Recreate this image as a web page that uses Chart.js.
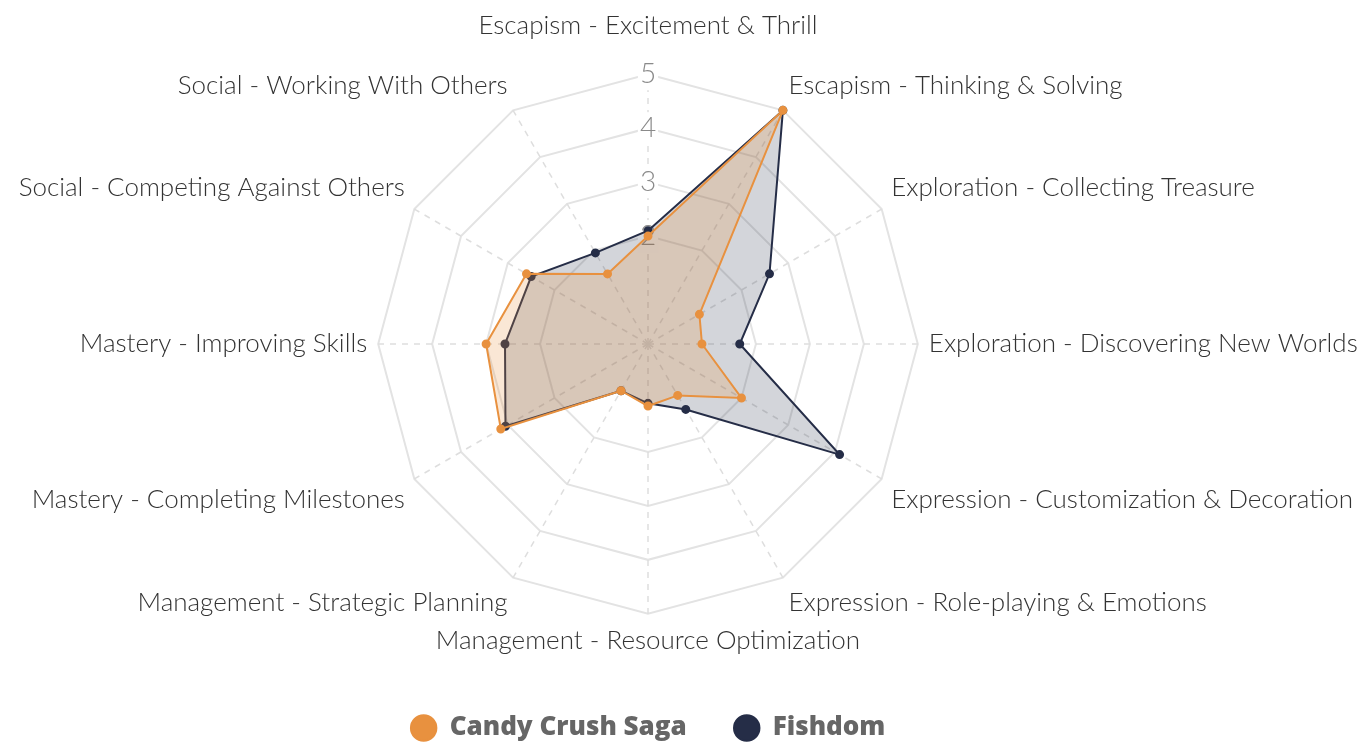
<!DOCTYPE html>
<html>
<head>
<meta charset="utf-8">
<script src="https://cdn.jsdelivr.net/npm/chart.js@4"></script>
<style>
html,body{margin:0;padding:0;background:#fff;overflow:hidden;}
#wrap{width:1357px;height:746px;position:relative;overflow:hidden;}
#c{position:absolute;left:-152px;top:0;}
</style>
</head>
<body>
<div id="wrap"><canvas id="c" width="1600" height="746"></canvas></div>
<script>
const categories = [
  "Escapism - Excitement & Thrill",
  "Escapism - Thinking & Solving",
  "Exploration - Collecting Treasure",
  "Exploration - Discovering New Worlds",
  "Expression - Customization & Decoration",
  "Expression - Role-playing & Emotions",
  "Management - Resource Optimization",
  "Management - Strategic Planning",
  "Mastery - Completing Milestones",
  "Mastery - Improving Skills",
  "Social - Competing Against Others",
  "Social - Working With Others"
];
const candyCrush = [2.0, 5.0, 1.1, 1.0, 2.0, 1.1, 1.15, 1.0, 3.15, 3.0, 2.6, 1.5];
const fishdom    = [2.1, 5.0, 2.6, 1.7, 4.1, 1.4, 1.1, 1.0, 3.05, 2.65, 2.5, 1.95];
const tickValues = [1, 2, 3, 4, 5];

const ORANGE = '#E8913F';
const NAVY = '#252D47';

new Chart(document.getElementById('c'), {
  type: 'radar',
  data: {
    labels: categories,
    datasets: [
      {
        label: 'Candy Crush Saga',
        data: candyCrush,
        borderColor: ORANGE,
        backgroundColor: 'rgba(232,145,63,0.22)',
        pointBackgroundColor: ORANGE,
        pointBorderColor: ORANGE,
        borderWidth: 2,
        pointRadius: 3.5,
        fill: true
      },
      {
        label: 'Fishdom',
        data: fishdom,
        borderColor: NAVY,
        backgroundColor: 'rgba(37,45,71,0.2)',
        pointBackgroundColor: NAVY,
        pointBorderColor: NAVY,
        borderWidth: 2,
        pointRadius: 3.5,
        fill: true
      }
    ]
  },
  options: {
    responsive: false,
    animation: false,
    layout: { padding: { top: 0, bottom: -5, left: 0, right: 0 } },
    plugins: {
      legend: {
        position: 'bottom',
        labels: {
          usePointStyle: true,
          pointStyle: 'circle',
          boxHeight: 18,
          padding: 47,
          color: '#666',
          font: { family: 'Open Sans', size: 26, weight: '800' }
        }
      },
      tooltip: { enabled: false }
    },
    scales: {
      r: {
        min: 0,
        max: 5,
        afterBuildTicks: (s) => { s.ticks = tickValues.map(v => ({ value: v })); },
        ticks: {
          color: '#8a8a8a',
          font: { family: 'Lato', size: 28, weight: '300' },
          backdropColor: '#fff',
          backdropPadding: 2
        },
        grid: { color: '#e3e3e3', lineWidth: 2 },
        angleLines: { color: '#dedede', lineWidth: 1.5, borderDash: [6, 6] },
        pointLabels: {
          color: '#333',
          padding: (ctx) => (ctx.index === 0 ? 17 : -5),
          font: { family: 'Lato', size: 26, weight: '300' }
        }
      }
    }
  }
});
</script>
</body>
</html>
